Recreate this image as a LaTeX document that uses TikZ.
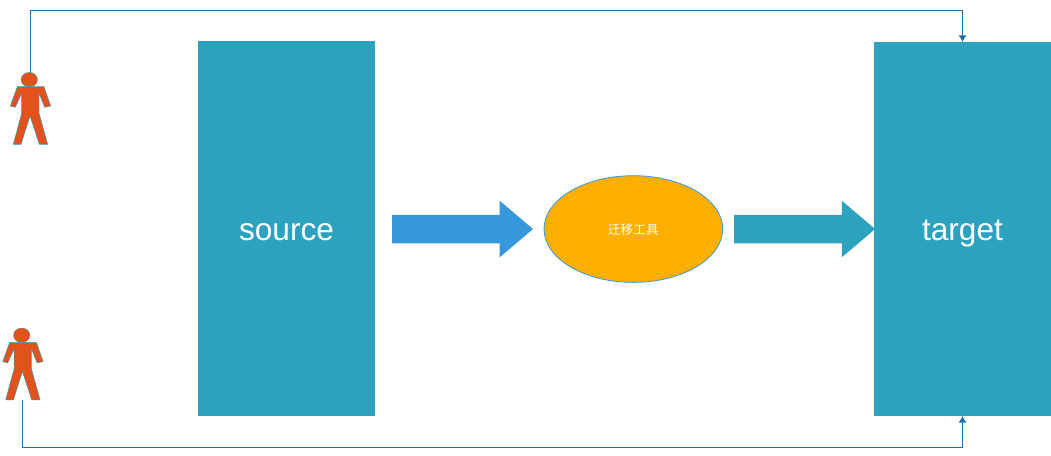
\documentclass[tikz,border=0pt]{standalone}
\usepackage{fontspec}
\setmainfont{Liberation Sans}
\newfontfamily\cjkfont{Noto Sans CJK SC}
\usetikzlibrary{arrows.meta,positioning,shapes.geometric,shapes.arrows}
\definecolor{boxteal}{RGB}{44,162,191}
\definecolor{arrowblue}{RGB}{52,152,219}
\definecolor{flowblue}{RGB}{31,111,168}
\definecolor{toolamber}{RGB}{255,175,0}
\definecolor{personred}{RGB}{226,82,28}
\tikzset{
  block/.style={fill=boxteal, text=white, minimum width=132.75pt, minimum height=281pt,
    inner sep=0pt, outer sep=0pt, text height=18pt, text depth=0pt, font=\fontsize{23.7}{28}\selectfont},
  bigarrow/.style={single arrow, fill=#1, minimum height=105.75pt, inner xsep=0pt, inner ysep=10.5pt,
    single arrow head extend=10.5pt, single arrow tip angle=80.6, outer sep=0pt},
  tool/.style={ellipse, draw=arrowblue, fill=toolamber, text=white, line width=.6pt,
    minimum width=134pt, minimum height=80pt, inner sep=0pt, outer sep=0pt,
    text height=8.9pt, text depth=0pt, font=\cjkfont\fontsize{9.5}{12}\selectfont},
  flow/.style={-{Latex[length=5pt,width=6pt]}, line width=.75pt, draw=flowblue},
  person/.pic={
    \node[ellipse, fill=personred, draw=boxteal, line width=.2pt, minimum width=12.4pt, minimum height=11pt,
      inner sep=0pt, outer sep=0pt] (-head) at (0,0) {};
    \draw[fill=personred, draw=boxteal, line width=.35pt, line join=round]
      (-12,7) -- (14.7,7) -- (21.4,26.3) -- (15.4,27.6) -- (9.7,13.6) -- (9.7,33.3)
      -- (18.4,64.6) -- (10,64.6) -- (.7,36.3) -- (-8.3,64.6) -- (-16,64.6) -- (-7.6,33.3)
      -- (-7.6,13.6) -- (-14,27.6) -- (-19,26.3) -- cycle;
    \coordinate (-neck) at (1,-7);
    \coordinate (-feet) at (.7,64.6);
  }
}
\begin{document}
\begin{tikzpicture}[x=.75pt, y=-.75pt]
  \useasboundingbox (0,0) rectangle (1051,456);
  \node[block] (source) at (286.5,228.5) {source};
  \node[block, minimum height=280.5pt] (target) at (962.5,229) {target};
  \node[bigarrow=arrowblue, right=12.75pt of source, yshift=-.4pt] (move) {};
  \node[tool, right=8.25pt of move] (tool) {迁移工具};
  \node[bigarrow=boxteal, right=8.6pt of tool] (load) {};
  \pic (userA) at (29.3,79.7) {person};
  \pic (userB) at (21.7,335.3) {person};
  \coordinate (topbend) at (userA-neck |- 0,11);
  \coordinate (botbend) at (userB-feet |- 0,447);
  \draw[flow] (userA-neck) -- (topbend) -| (target.north);
  \draw[flow] (userB-feet) -- (botbend) -| (target.south);
\end{tikzpicture}
\end{document}
